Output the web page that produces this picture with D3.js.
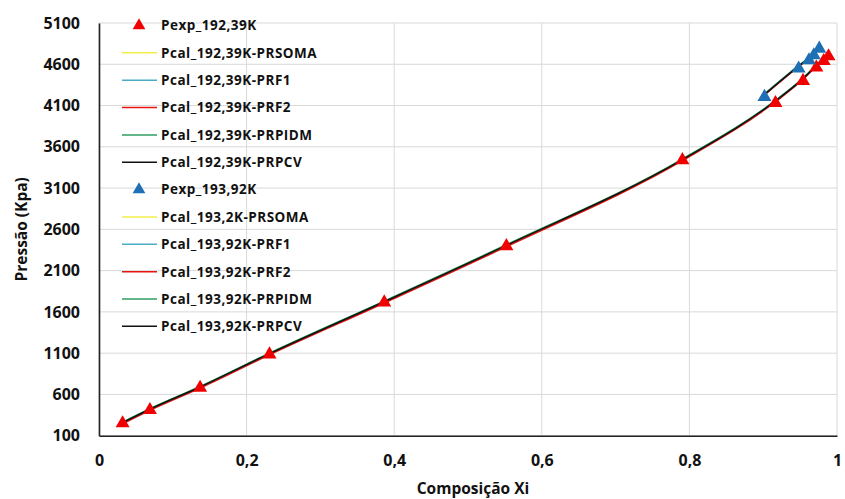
<!DOCTYPE html>
<html>
<head>
<meta charset="utf-8">
<script src="https://cdn.jsdelivr.net/npm/d3@7"></script>
<style>
  html, body { margin: 0; padding: 0; background: #fff; }
  svg { display: block; }
  text { font-family: "Open Sans", "Liberation Sans", sans-serif; font-weight: bold; fill: #111; }
</style>
</head>
<body>
<svg id="chart" width="845" height="499"></svg>
<script>
// Experimental bubble-point pressures (kPa) vs. liquid composition
const xExp192 = [0.032, 0.069, 0.137, 0.231, 0.3865, 0.552, 0.7905, 0.9166, 0.954, 0.972, 0.982, 0.9885];
const pExp192 = [250, 411, 681, 1085, 1715, 2397, 3438, 4131, 4398, 4560, 4640, 4697];
const xExp193 = [0.9017, 0.948, 0.962, 0.9686, 0.976];
const pExp193 = [4204, 4548, 4648, 4709, 4790];

// Calculated pressures for each model (kPa), same compositions as above
const pCalc192_PRSOMA = [262, 425, 694, 1098, 1728, 2410, 3450, 4160, 4430, 4588, 4672, 4730];
const pCalc192_PRF1   = [260, 423, 692, 1096, 1726, 2408, 3448, 4158, 4428, 4586, 4670, 4728];
const pCalc192_PRF2   = [245, 408, 677, 1080, 1708, 2390, 3432, 4146, 4418, 4578, 4662, 4720];
const pCalc192_PRPIDM = [262, 426, 696, 1100, 1731, 2413, 3452, 4162, 4432, 4590, 4674, 4732];
const pCalc192_PRPCV  = [258, 421, 690, 1094, 1723, 2405, 3445, 4156, 4426, 4584, 4668, 4726];
const pCalc193_PRSOMA = [4238, 4582, 4680, 4738, 4812];
const pCalc193_PRF1   = [4236, 4580, 4678, 4736, 4810];
const pCalc193_PRF2   = [4226, 4570, 4668, 4727, 4802];
const pCalc193_PRPIDM = [4240, 4584, 4682, 4740, 4814];
const pCalc193_PRPCV  = [4234, 4578, 4676, 4734, 4808];

const xTicks = [0, 0.2, 0.4, 0.6, 0.8, 1];
const yTicks = [100, 600, 1100, 1600, 2100, 2600, 3100, 3600, 4100, 4600, 5100];

const legendLabels = [
  "Pexp_192,39K", "Pcal_192,39K-PRSOMA", "Pcal_192,39K-PRF1", "Pcal_192,39K-PRF2",
  "Pcal_192,39K-PRPIDM", "Pcal_192,39K-PRPCV", "Pexp_193,92K", "Pcal_193,2K-PRSOMA",
  "Pcal_193,92K-PRF1", "Pcal_193,92K-PRF2", "Pcal_193,92K-PRPIDM", "Pcal_193,92K-PRPCV"
];

const C = { yellow: "#f3ec4a", cyan: "#4bacc6", red: "#e8140f", green: "#2f9e63", black: "#111111", redMk: "#f00000", blueMk: "#1f6fb4" };

const margin = { left: 99, right: 8, top: 23, bottom: 63.3 };
const W = 845, H = 499;
const svg = d3.select("#chart");

const x = d3.scaleLinear().domain([0, 1]).range([margin.left, W - margin.right]);
const y = d3.scaleLinear().domain([100, 5100]).range([H - margin.bottom, margin.top]);

// gridlines
svg.append("g").selectAll("line.h").data(yTicks).join("line")
  .attr("x1", x(0)).attr("x2", x(1)).attr("y1", d => y(d)).attr("y2", d => y(d))
  .attr("stroke", "#d9d9d9").attr("stroke-width", 1);
svg.append("g").selectAll("line.v").data(xTicks).join("line")
  .attr("x1", d => x(d)).attr("x2", d => x(d)).attr("y1", y(100)).attr("y2", y(5100))
  .attr("stroke", "#d9d9d9").attr("stroke-width", 1);

// axes
const xAxis = svg.append("g").attr("transform", `translate(0,${y(100)})`)
  .call(d3.axisBottom(x).tickValues(xTicks).tickSize(0).tickPadding(19)
    .tickFormat(d => d3.format("~g")(d).replace(".", ",")));
xAxis.select(".domain").attr("stroke", "#222").attr("stroke-width", 1.6);
xAxis.selectAll("text").style("font-size", "16px").style("font-family", "'Open Sans', sans-serif").style("font-weight", "bold").attr("fill", "#111");

const yAxis = svg.append("g").attr("transform", `translate(${x(0)},0)`)
  .call(d3.axisLeft(y).tickValues(yTicks).tickSize(0).tickPadding(19).tickFormat(d3.format("d")));
yAxis.select(".domain").attr("stroke", "#222").attr("stroke-width", 1.6);
yAxis.selectAll("text").style("font-size", "16px").style("font-family", "'Open Sans', sans-serif").style("font-weight", "bold").attr("fill", "#111");

svg.append("text").attr("x", (x(0) + x(1)) / 2 + 5).attr("y", 494)
  .attr("text-anchor", "middle").style("font-size", "15.5px").text("Composição Xi");
svg.append("text").attr("transform", `translate(27,${(y(100) + y(5100)) / 2}) rotate(-90)`)
  .attr("text-anchor", "middle").style("font-size", "15.5px").text("Pressão (Kpa)");

// calculated curves
const line = d3.line().x(d => x(d[0])).y(d => y(d[1])).curve(d3.curveMonotoneX);
const calc = [
  [xExp192, pCalc192_PRSOMA, C.yellow], [xExp192, pCalc192_PRF1, C.cyan],
  [xExp192, pCalc192_PRF2, C.red], [xExp192, pCalc192_PRPIDM, C.green],
  [xExp192, pCalc192_PRPCV, C.black],
  [xExp193, pCalc193_PRSOMA, C.yellow], [xExp193, pCalc193_PRF1, C.cyan],
  [xExp193, pCalc193_PRF2, C.red], [xExp193, pCalc193_PRPIDM, C.green],
  [xExp193, pCalc193_PRPCV, C.black]
];
svg.append("g").selectAll("path").data(calc).join("path")
  .attr("d", d => line(d[0].map((v, i) => [v, d[1][i]])))
  .attr("fill", "none").attr("stroke", d => d[2]).attr("stroke-width", 1.5);

// experimental markers
const tri = d3.symbol().type(d3.symbolTriangle).size(85);
svg.append("g").selectAll("path").data(xExp192.map((v, i) => [v, pExp192[i]])).join("path")
  .attr("d", tri).attr("transform", d => `translate(${x(d[0])},${y(d[1])})`).attr("fill", C.redMk);
svg.append("g").selectAll("path").data(xExp193.map((v, i) => [v, pExp193[i]])).join("path")
  .attr("d", tri).attr("transform", d => `translate(${x(d[0])},${y(d[1])})`).attr("fill", C.blueMk);

// legend
const legendKinds = ["mr", C.yellow, C.cyan, C.red, C.green, C.black, "mb", C.yellow, C.cyan, C.red, C.green, C.black];
const lg = svg.append("g");
legendLabels.forEach((lab, i) => {
  const cy = 25.5 + i * 27.35;
  const k = legendKinds[i];
  if (k === "mr" || k === "mb") {
    lg.append("path").attr("d", d3.symbol().type(d3.symbolTriangle).size(70))
      .attr("transform", `translate(139,${cy})`).attr("fill", k === "mr" ? C.redMk : C.blueMk);
  } else {
    lg.append("line").attr("x1", 122).attr("x2", 157).attr("y1", cy).attr("y2", cy)
      .attr("stroke", k).attr("stroke-width", 1.5);
  }
  lg.append("text").attr("x", 161).attr("y", cy).attr("dy", "0.36em")
    .style("font-size", "13.5px").style("letter-spacing", "0.5px").text(lab);
});
</script>
</body>
</html>
